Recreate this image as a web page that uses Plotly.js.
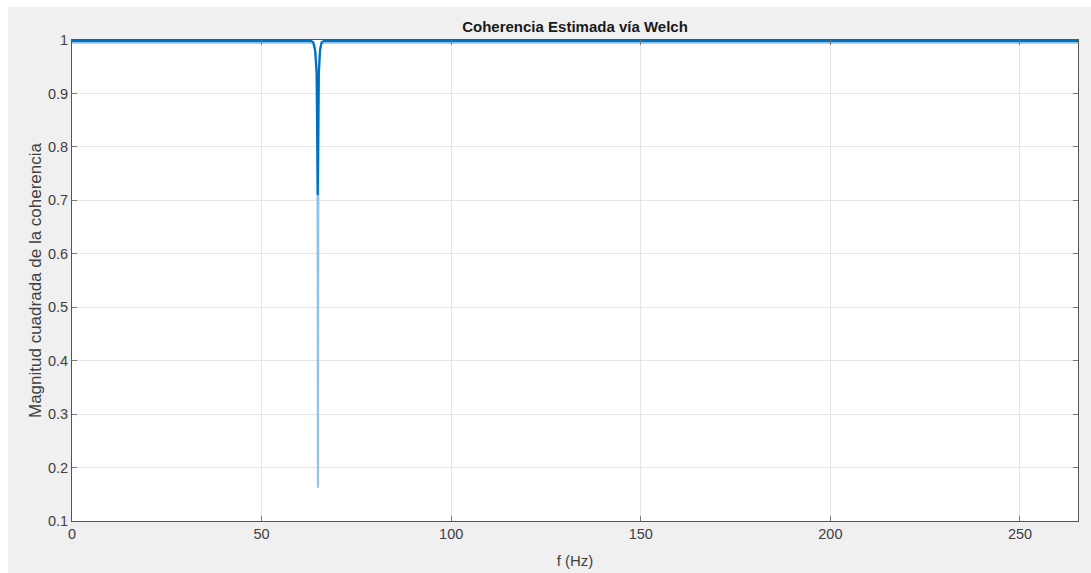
<!DOCTYPE html>
<html>
<head>
<meta charset="utf-8">
<script src="https://cdn.plot.ly/plotly-3.0.1.min.js"></script>
<style>
  html, body { margin: 0; padding: 0; background: #ffffff; }
  #chart { position: absolute; left: 8px; top: 7px; width: 1083px; height: 566px; }
</style>
</head>
<body>
<div id="chart"></div>
<script>
// Frequency (Hz) and coherence values
const freqDark = [0, 30, 60, 63, 63.6, 64.1, 64.5, 64.8, 65.1, 65.4, 65.85, 66.5, 100, 150, 200, 265.5];
const cohDark  = [0.9985, 0.9985, 0.9985, 0.9985, 0.996, 0.981, 0.94, 0.71, 0.94, 0.981, 0.996, 0.9985, 0.9985, 0.9985, 0.9985, 0.9985];

const freqLight = [0, 30, 60, 63.5, 63.9, 64.4, 64.7, 64.85, 65.0, 65.3, 65.7, 66.2, 100, 150, 200, 265.5];
const cohLight  = [0.995, 0.995, 0.995, 0.995, 0.993, 0.97, 0.9, 0.162, 0.9, 0.97, 0.993, 0.995, 0.995, 0.995, 0.995, 0.995];

const xTicks = [0, 50, 100, 150, 200, 250];
const yTicks = [0.1, 0.2, 0.3, 0.4, 0.5, 0.6, 0.7, 0.8, 0.9, 1];

const traces = [
  { x: freqLight, y: cohLight, type: 'scatter', mode: 'lines',
    line: { color: 'rgb(140,195,235)', width: 2 }, hoverinfo: 'skip' },
  { x: freqDark, y: cohDark, type: 'scatter', mode: 'lines',
    line: { color: '#0072BD', width: 2.2 }, hoverinfo: 'skip' }
];

const fam = 'Liberation Sans, Arial, sans-serif';
const tickFont = { family: fam, size: 14.5, color: '#404040' };

const layout = {
  width: 1083, height: 566,
  paper_bgcolor: '#f0f0f0', plot_bgcolor: '#ffffff',
  margin: { l: 64, r: 13, t: 33, b: 52 },
  showlegend: false,
  title: { text: '<b>Coherencia Estimada vía Welch</b>', xref: 'paper', x: 0.5, xanchor: 'center', y: 0.965, yanchor: 'middle',
    font: { family: fam, size: 15, color: '#1a1a1a' } },
  xaxis: {
    range: [0, 265.3], tickvals: xTicks, ticktext: xTicks.map(String),
    showgrid: true, gridcolor: '#e5e5e5', zeroline: false,
    showline: true, mirror: 'ticks', linecolor: '#555555', linewidth: 1,
    ticks: 'inside', ticklen: 5, tickcolor: '#777777',
    tickfont: tickFont,
    title: { text: 'f (Hz)', font: { family: fam, size: 15, color: '#404040' }, standoff: 14 }
  },
  yaxis: {
    range: [0.1, 1], tickvals: yTicks, ticktext: yTicks.map(v => String(v)),
    showgrid: true, gridcolor: '#e5e5e5', zeroline: false,
    showline: true, mirror: 'ticks', linecolor: '#555555', linewidth: 1,
    ticks: 'inside', ticklen: 5, tickcolor: '#777777',
    tickfont: tickFont,
    title: { text: 'Magnitud cuadrada de la coherencia', font: { family: fam, size: 17, color: '#404040' }, standoff: 1 }
  }
};

Plotly.newPlot('chart', traces, layout, { displayModeBar: false, staticPlot: true });
</script>
</body>
</html>
